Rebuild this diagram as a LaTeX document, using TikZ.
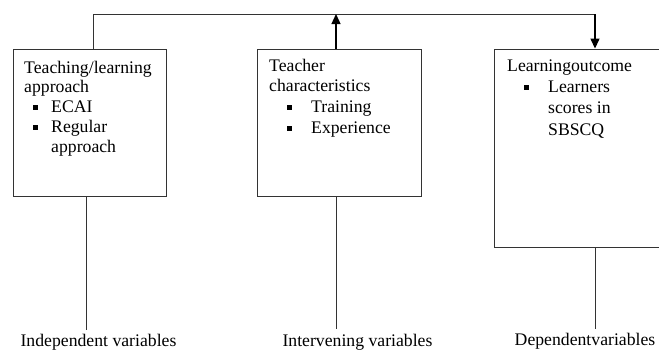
\documentclass[tikz,border=0pt]{standalone}
\usepackage{fontspec}
\setmainfont{Liberation Serif}
\usetikzlibrary{arrows.meta}
\begin{document}
\begin{tikzpicture}[x=1pt,y=-1pt,
  box/.style={draw=black!80,line width=0.9pt,inner sep=0pt},
  txt/.style={anchor=base west,inner sep=0pt,font=\fontsize{17.7}{20}\selectfont},
  lbl/.style={anchor=base,inner sep=0pt,font=\fontsize{17.7}{20}\selectfont},
  bul/.style={fill=black,minimum size=5pt,inner sep=0pt},
  link/.style={draw=black!80,line width=0.9pt},
  arr/.style={draw=black,line width=1.3pt,-{Triangle[length=10pt,width=9pt]}}]
\useasboundingbox (0,0) rectangle (659,349);
% boxes
\node[box,minimum width=153pt,minimum height=147pt] (b1) at (89.5,122.5) {};
\node[box,minimum width=164pt,minimum height=147pt] (b2) at (339,122.5) {};
\node[box,minimum width=170pt,minimum height=198pt] (b3) at (579,148) {};
% box 1 text
\node[txt] (t1a) at (24,73) {Teaching/learning};
\node[txt] (t1b) at (24,92) {approach};
\node[bul] (p1a) at (35,107) {};
\node[txt] (t1c) at (51,112) {ECAI};
\node[bul] (p1b) at (35,127) {};
\node[txt] (t1d) at (51,132) {Regular};
\node[txt] (t1e) at (51,152) {approach};
% box 2 text
\node[txt] (t2a) at (269,71) {Teacher};
\node[txt] (t2b) at (269,91) {characteristics};
\node[bul] (p2a) at (289,107) {};
\node[txt] (t2c) at (311,112) {Training};
\node[bul] (p2b) at (289,128) {};
\node[txt] (t2d) at (311,133) {Experience};
% box 3 text
\node[txt] (t3a) at (507,71) {Learningoutcome};
\node[bul] (p3a) at (526,87) {};
\node[txt] (t3b) at (548,92) {Learners};
\node[txt] (t3c) at (548,113) {scores in};
\node[txt] (t3d) at (548,135) {SBSCQ};
% bottom labels
\node[lbl] (l1) at (98.5,346) {Independent variables};
\node[lbl] (l2) at (357.5,346) {Intervening variables};
\node[lbl] (l3) at (585,345) {Dependentvariables};
% top connector
\coordinate (c1) at (93,14);
\coordinate (c2) at (336,14);
\coordinate (c3) at (595,14);
\draw[link] (b1.north -| c1) -- (c1) -- (c3);
\draw[arr] (b2.north -| c2) -- (c2);
\draw[arr] (c3) -- (b3.north -| c3);
% bottom connectors
\coordinate (d1) at (86,330);
\coordinate (d2) at (336,329);
\coordinate (d3) at (595,329);
\draw[link] (b1.south -| d1) -- (d1);
\draw[link] (b2.south -| d2) -- (d2);
\draw[link] (b3.south -| d3) -- (d3);
\end{tikzpicture}
\end{document}
